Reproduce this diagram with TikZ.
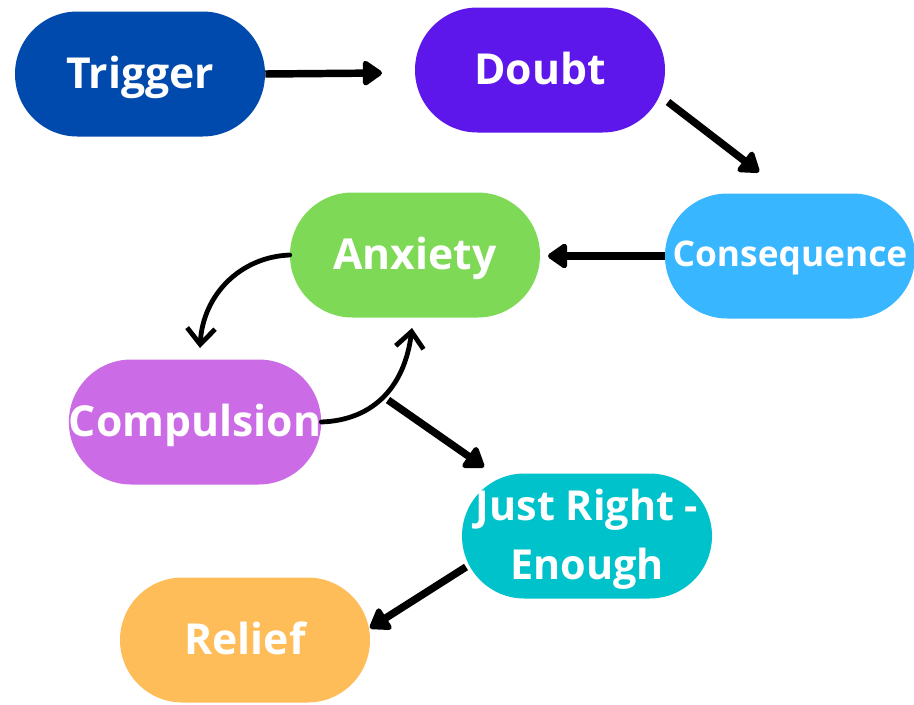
\documentclass[tikz,border=0pt]{standalone}
\usepackage{fontspec}
\setmainfont{Open Sans}
\usetikzlibrary{arrows.meta}
\definecolor{ctrig}{HTML}{004AAD}
\definecolor{cdoubt}{HTML}{5E17EB}
\definecolor{ccons}{HTML}{38B6FF}
\definecolor{canx}{HTML}{7ED957}
\definecolor{ccomp}{HTML}{CB6CE6}
\definecolor{cjust}{HTML}{00C2CB}
\definecolor{crel}{HTML}{FFBD59}
\tikzset{
  pill/.style={fill=#1, draw=none, rounded corners=46.8pt, minimum width=187.5pt, minimum height=93.75pt, inner sep=0pt, text=white, font=\bfseries\fontsize{32}{36}\selectfont, align=center, text depth=3pt},
  flow/.style={line width=5.6pt, -{Triangle[round,length=16pt,width=21pt]}},
  curvy/.style={line width=3.6pt, line cap=round, -{Straight Barb[length=12pt,width=21pt,line width=3.6pt]}}
}
\begin{document}
\begin{tikzpicture}[x=0.75pt,y=-0.75pt]
\useasboundingbox (0,0) rectangle (914,704);
\node[pill=ctrig] (trig) at (140,74) {Trigger};
\node[pill=cdoubt] (doubt) at (540,70) {Doubt};
\node[pill=ccons, font=\bfseries\fontsize{26.5}{30}\selectfont] (cons) at (790,256) {Consequence};
\node[pill=canx] (anx) at (415,255) {Anxiety};
\node[pill=ccomp] (comp) at (195,422) {Compulsion};
\node[pill=cjust, font=\bfseries\fontsize{31}{44}\selectfont] (just) at (587,536) {Just Right -\\Enough};
\node[pill=crel] (rel) at (245,640) {Relief};

\coordinate (c1) at (388,400);
\coordinate (d1) at (668,102);
\coordinate (j1) at (466,567);

\draw[flow] (trig.east) -- (382,73);
\draw[flow] (d1) -- (759,172);
\draw[flow] (cons.west) -- (548,256);
\draw[flow] (c1) -- (484,467);
\draw[flow] (j1) -- (370,628);
\draw[curvy] (anx.west) .. controls (240,257) and (203,295) .. (200,348);
\draw[curvy] (comp.east) .. controls (375,420) and (405,385) .. (412,328);
\end{tikzpicture}
\end{document}
